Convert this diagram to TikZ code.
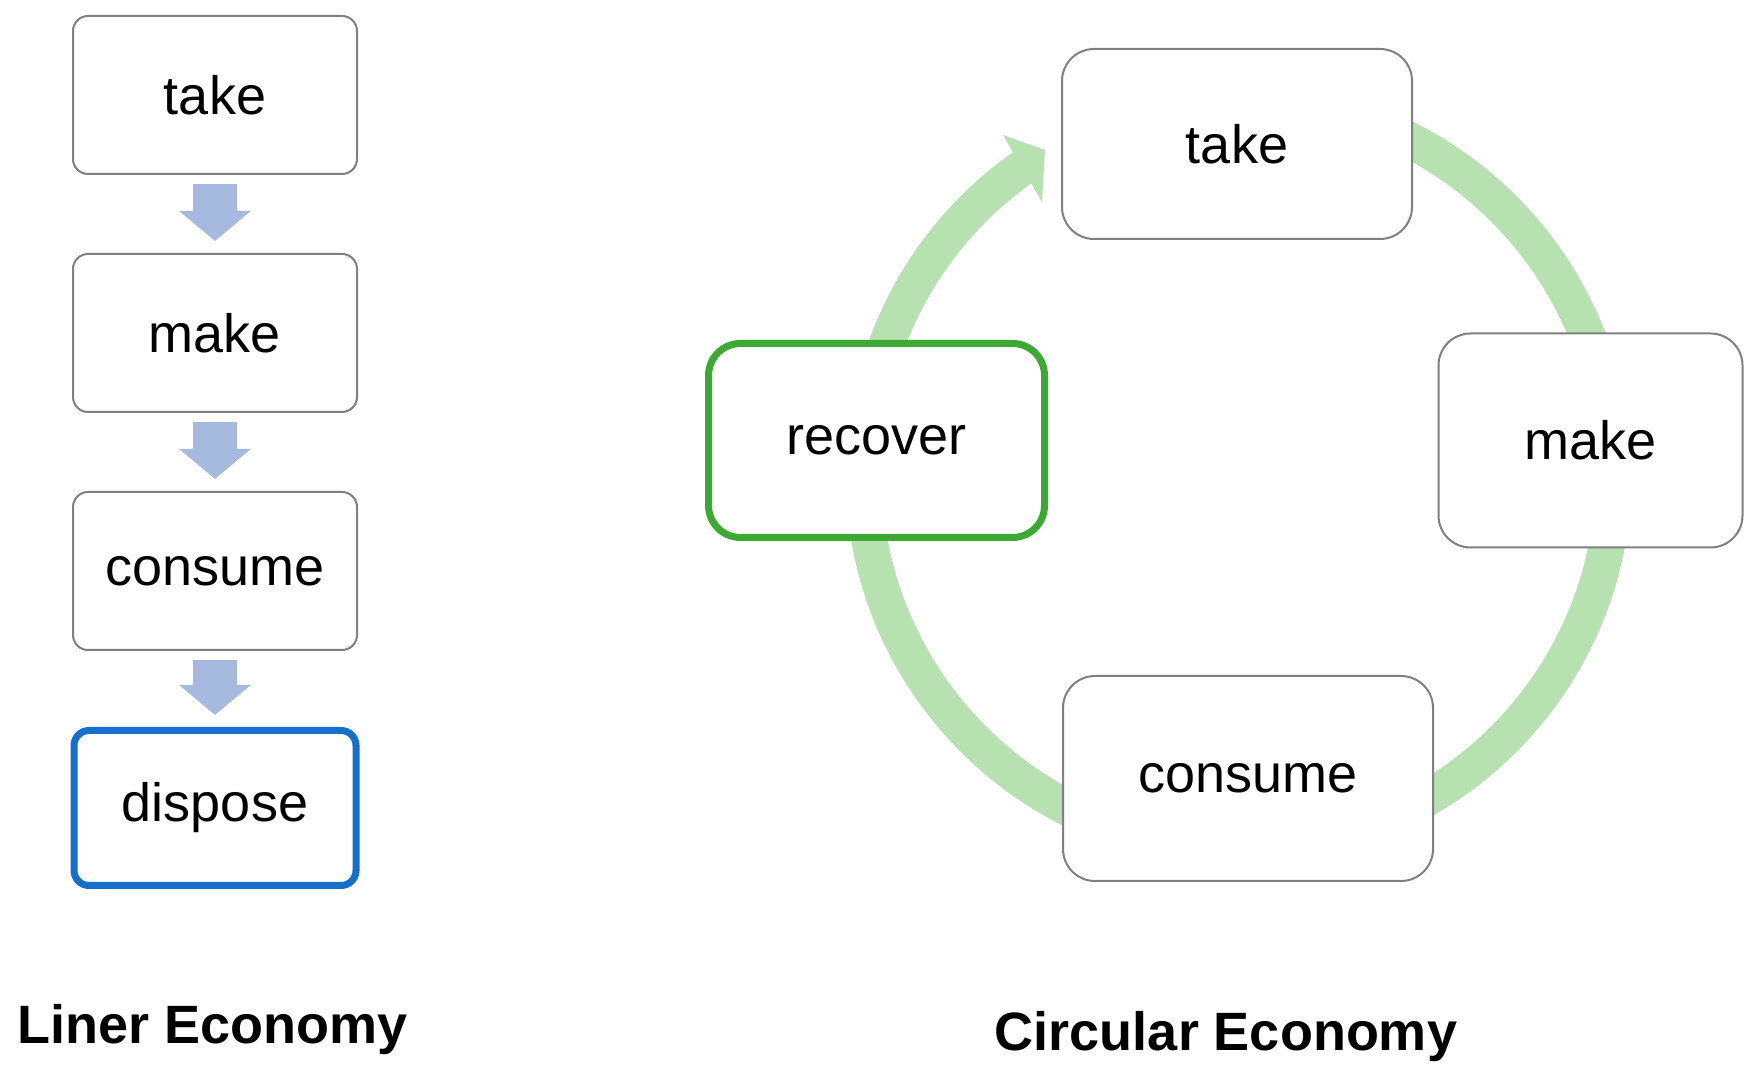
\documentclass[tikz,border=0pt]{standalone}
\usepackage{fontspec}
\setmainfont{Liberation Sans}
\usetikzlibrary{arrows.meta}
\definecolor{boxgray}{RGB}{128,128,128}
\definecolor{ringgreen}{RGB}{183,225,177}
\definecolor{arrowblue}{RGB}{166,185,223}
\definecolor{disposeblue}{RGB}{22,111,203}
\definecolor{recovergreen}{RGB}{60,170,50}
\tikzset{
  boxtext/.style={font=\fontsize{27pt}{32pt}\selectfont, text=black},
  lbox/.style={boxtext, draw=boxgray, line width=1pt, fill=white, rounded corners=7.5pt,
    minimum width=142pt, minimum height=79pt, inner sep=0pt},
  cbox/.style={boxtext, draw=boxgray, line width=1pt, fill=white, rounded corners=16pt, inner sep=0pt},
  blockarrow/.style={draw=arrowblue, line width=22pt,
    -{Triangle[length=15pt, width=35pt, fill=arrowblue]}, shorten <=4.5pt, shorten >=6pt},
  ring/.style={draw=ringgreen, line width=18pt},
  title/.style={font=\bfseries\fontsize{27pt}{32pt}\selectfont, anchor=base, inner sep=0pt}
}
\begin{document}
\begin{tikzpicture}[x=0.5pt, y=0.5pt]
\useasboundingbox (0,0) rectangle (1760,1075);
\fill[white] (0,0) rectangle (1760,1075);

% ---- Linear economy ----
\node[lbox] (ltake) at (215,980) {take};
\node[lbox] (lmake) at (215,742) {make};
\node[lbox] (lconsume) at (215,504) {consume};
\node[lbox, draw=disposeblue, line width=3.5pt, minimum width=141pt, minimum height=77.5pt] (ldispose) at (215,267) {dispose};
\draw[blockarrow] (ltake.south) -- (lmake.north);
\draw[blockarrow] (lmake.south) -- (lconsume.north);
\draw[blockarrow] (lconsume.south) -- (ldispose.north);
\node[title] (ltitle) at (213,31) {Liner Economy};

% ---- Circular economy ----
\coordinate (cc) at (1238.6,601);
\draw[ring] (cc) ++(90:187.5pt) arc[start angle=90, end angle=-235.3, radius=187.5pt];
\fill[ringgreen] (1003,940) -- (1045,925) -- (1042,873) -- cycle;

\node[cbox, minimum width=175pt, minimum height=95pt] (ctake) at (1237,931) {take};
\node[cbox, minimum width=152pt, minimum height=107pt] (cmake) at (1590.5,634.5) {make};
\node[cbox, minimum width=185pt, minimum height=102.5pt] (cconsume) at (1248,296.5) {consume};
\node[cbox, draw=recovergreen, line width=3.5pt, minimum width=168pt, minimum height=97pt] (crecover) at (876.5,634.5) {recover};
\node[title] (ctitle) at (1226,24) {Circular Economy};
\end{tikzpicture}
\end{document}
